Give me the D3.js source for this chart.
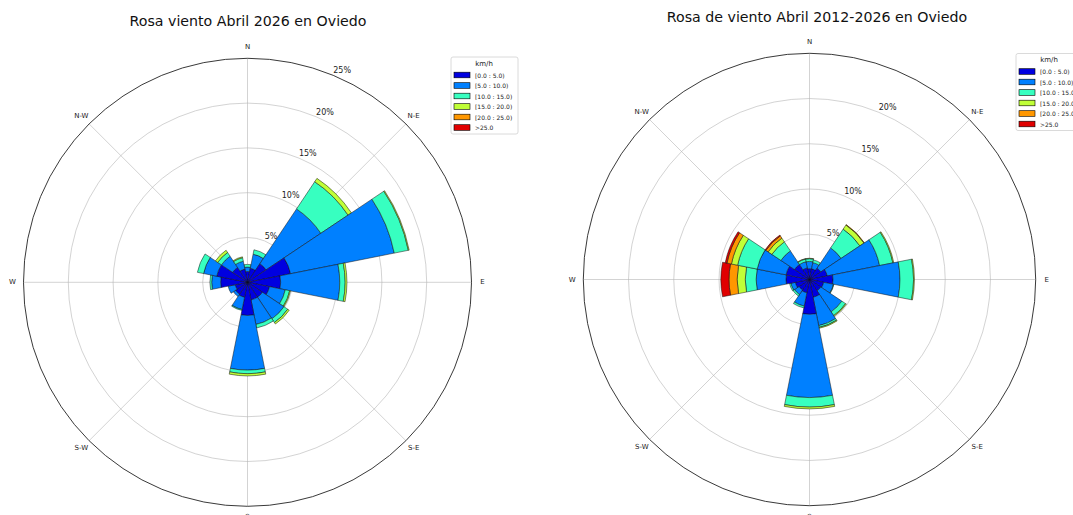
<!DOCTYPE html>
<html>
<head>
<meta charset="utf-8">
<script src="https://cdn.jsdelivr.net/npm/d3@7"></script>
<style>
  body { margin: 0; background: #fff; }
  svg { display: block; }
</style>
</head>
<body>
<div id="chart"></div>
<script>
// 16 sectors, clockwise from N
var direcciones = ["N", "NNE", "NE", "ENE", "E", "ESE", "SE", "SSE", "S", "SSW", "SW", "WSW", "W", "WNW", "NW", "NNW"];
var puntos = ["N", "N-E", "E", "S-E", "S", "S-W", "W", "N-W"];
var rangos = ["[0.0 : 5.0)", "[5.0 : 10.0)", "[10.0 : 15.0)", "[15.0 : 20.0)", "[20.0 : 25.0)", ">25.0"];
var ticks = [5, 10, 15, 20, 25];

// Abril 2026 (% of time per sector, per speed bin)
var mes_0_5   = [1.2, 1.6, 2.5, 4.9, 3.7, 2.5, 2.0, 2.0, 3.7, 1.7, 1.6, 1.4, 3.0, 3.5, 2.0, 1.5];
var mes_5_10  = [0.5, 1.6, 7.35, 11.8, 6.6, 1.8, 2.9, 2.8, 6.1, 1.4, 0.3, 0.8, 1.0, 1.5, 1.5, 0.9];
var mes_10_15 = [0.3, 0.5, 3.65, 1.6, 0.6, 0.5, 0.5, 0.4, 0.4, 0.1, 0.0, 0.0, 0.2, 0.7, 0.5, 0.4];
var mes_15_20 = [0.0, 0.0, 0.45, 0.1, 0.2, 0.1, 0.2, 0.0, 0.25, 0.0, 0.0, 0.0, 0.0, 0.0, 0.3, 0.1];
var mes_20_25 = [0, 0, 0, 0, 0, 0, 0, 0, 0, 0, 0, 0, 0, 0, 0, 0];
var mes_25    = [0, 0, 0, 0, 0, 0, 0, 0, 0, 0, 0, 0, 0, 0, 0, 0];

// Abril 2012-2026
var hist_0_5   = [1.2, 1.2, 1.5, 2.0, 2.6, 1.6, 1.5, 2.0, 3.85, 1.5, 1.4, 1.6, 2.6, 2.65, 2.0, 1.3];
var hist_5_10  = [0.8, 0.7, 2.7, 5.9, 7.4, 1.1, 2.8, 3.2, 9.2, 1.5, 0.6, 0.5, 3.3, 3.25, 1.8, 0.7];
var hist_10_15 = [0.3, 0.3, 2.5, 1.5, 1.5, 0.05, 0.5, 0.2, 1.05, 0.2, 0.2, 0.15, 1.2, 2.2, 1.2, 0.3];
var hist_15_20 = [0.05, 0.0, 0.55, 0.1, 0.1, 0.0, 0.1, 0.1, 0.2, 0.0, 0.0, 0.0, 0.9, 0.7, 0.5, 0.05];
var hist_20_25 = [0, 0, 0.05, 0, 0, 0, 0, 0, 0, 0, 0, 0, 0.9, 0.5, 0.3, 0];
var hist_25    = [0, 0, 0, 0, 0, 0, 0, 0, 0, 0, 0, 0, 0.9, 0.2, 0.1, 0];

// jet colormap at bin centres
var colores = ["#0000e0", "#0080ff", "#37ffc0", "#c0ff37", "#ff9700", "#e00000"];

var svg = d3.select("#chart").append("svg")
    .attr("width", 1073)
    .attr("height", 515)
    .style("font-family", "'DejaVu Sans', sans-serif");

function rosa(cfg) {
  var g = svg.append("g")
      .attr("transform", "translate(" + cfg.cx + "," + cfg.cy + ")");
  var r = d3.scaleLinear().domain([0, 25]).range([0, cfg.R]);
  var step = 2 * Math.PI / direcciones.length;

  // grid circles (below the bars)
  g.append("g").selectAll("circle")
      .data(ticks.slice(0, -1))
    .enter().append("circle")
      .attr("r", function (d) { return r(d); })
      .attr("fill", "none")
      .attr("stroke", "#b0b0b0")
      .attr("stroke-opacity", 0.7)
      .attr("stroke-width", 0.8);

  // spokes every 45 deg
  g.append("g").selectAll("line")
      .data(puntos)
    .enter().append("line")
      .attr("x1", 0).attr("y1", 0)
      .attr("x2", function (d, i) { return cfg.R * Math.sin(i * Math.PI / 4); })
      .attr("y2", function (d, i) { return -cfg.R * Math.cos(i * Math.PI / 4); })
      .attr("stroke", "#b0b0b0")
      .attr("stroke-opacity", 0.7)
      .attr("stroke-width", 0.8);

  // stack the bins per sector
  var segs = [];
  direcciones.forEach(function (dir, i) {
    var acc = 0;
    cfg.bins.forEach(function (bin, j) {
      var v = bin[i];
      if (v > 0) {
        segs.push({i: i, j: j, v0: acc, v1: acc + v});
      }
      acc += v;
    });
  });

  var arc = d3.arc()
      .innerRadius(function (d) { return r(d.v0); })
      .outerRadius(function (d) { return r(d.v1); })
      .startAngle(function (d) { return (d.i - 0.5) * step; })
      .endAngle(function (d) { return (d.i + 0.5) * step; });

  g.append("g").selectAll("path")
      .data(segs)
    .enter().append("path")
      .attr("d", arc)
      .attr("fill", function (d) { return colores[d.j]; })
      .attr("stroke", "#111")
      .attr("stroke-width", 0.5);

  // outer frame
  g.append("circle")
      .attr("r", cfg.R)
      .attr("fill", "none")
      .attr("stroke", "#222")
      .attr("stroke-width", 0.9);

  // compass labels
  g.append("g").selectAll("text")
      .data(puntos)
    .enter().append("text")
      .attr("x", function (d, i) { return (cfg.R + 11) * Math.sin(i * Math.PI / 4); })
      .attr("y", function (d, i) { return -(cfg.R + 11) * Math.cos(i * Math.PI / 4); })
      .attr("text-anchor", "middle")
      .attr("dominant-baseline", "central")
      .attr("font-size", "7px")
      .attr("fill", "#222")
      .text(function (d) { return d; });

  // radial tick labels at 22.5 deg
  var a = Math.PI / 8;
  g.append("g").selectAll("text")
      .data(cfg.tickLabels)
    .enter().append("text")
      .attr("x", function (d) { return r(d) * Math.sin(a); })
      .attr("y", function (d) { return -r(d) * Math.cos(a) - 2; })
      .attr("font-size", "8px")
      .attr("fill", "#222")
      .text(function (d) { return d + "%"; });

  // title
  svg.append("text")
      .attr("x", cfg.titleX)
      .attr("y", cfg.titleY)
      .attr("text-anchor", "middle")
      .attr("font-size", "14.2px")
      .attr("fill", "#111")
      .text(cfg.title);

  // legend
  var lg = svg.append("g")
      .attr("transform", "translate(" + cfg.legendX + "," + cfg.legendY + ")");
  lg.append("rect")
      .attr("x", 0).attr("y", 0)
      .attr("width", 67).attr("height", 77)
      .attr("rx", 2)
      .attr("fill", "#fff")
      .attr("stroke", "#d0d0d0")
      .attr("stroke-width", 0.8);
  lg.append("text")
      .attr("x", 33).attr("y", 6.5)
      .attr("text-anchor", "middle")
      .attr("dominant-baseline", "central")
      .attr("font-size", "7px")
      .attr("fill", "#222")
      .text("km/h");
  var item = lg.selectAll(".item")
      .data(rangos)
    .enter().append("g")
      .attr("class", "item")
      .attr("transform", function (d, i) { return "translate(0," + (18 + i * 10.5) + ")"; });
  item.append("rect")
      .attr("x", 3).attr("y", -2.8)
      .attr("width", 16).attr("height", 5.6)
      .attr("fill", function (d, i) { return colores[i]; })
      .attr("stroke", "#000")
      .attr("stroke-width", 0.6);
  item.append("text")
      .attr("x", 24).attr("y", 0)
      .attr("dominant-baseline", "central")
      .attr("font-size", "6px")
      .attr("fill", "#222")
      .text(function (d) { return d; });
}

rosa({
  cx: 247.5, cy: 282.3, R: 224,
  bins: [mes_0_5, mes_5_10, mes_10_15, mes_15_20, mes_20_25, mes_25],
  tickLabels: [5, 10, 15, 20, 25],
  title: "Rosa viento Abril 2026 en Oviedo",
  titleX: 248, titleY: 26,
  legendX: 451, legendY: 57
});

rosa({
  cx: 809.5, cy: 279.5, R: 226.2,
  bins: [hist_0_5, hist_5_10, hist_10_15, hist_15_20, hist_20_25, hist_25],
  tickLabels: [5, 10, 15, 20],
  title: "Rosa de viento Abril 2012-2026 en Oviedo",
  titleX: 817, titleY: 22,
  legendX: 1016, legendY: 53.5
});
</script>
</body>
</html>
